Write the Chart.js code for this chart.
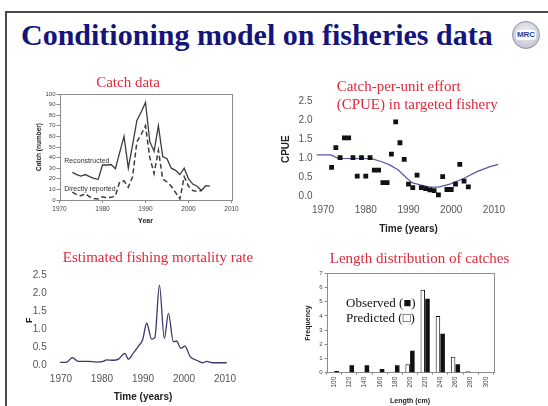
<!DOCTYPE html>
<html>
<head>
<meta charset="utf-8">
<script src="https://cdn.jsdelivr.net/npm/chart.js@4.4.1/dist/chart.umd.min.js"></script>
<style>
  body { margin: 0; width: 548px; height: 406px; background: #fff; position: relative; overflow: hidden; }
  .frame { position: absolute; left: 5px; top: 11px; width: 600px; height: 450px; border-left: 2px solid #4a4a4a; border-top: 2px solid #4a4a4a; }
  h1 { position: absolute; left: 21px; top: 20px; margin: 0; font: bold 30px/30px "Liberation Serif", "Times New Roman", serif; color: #14147a; white-space: nowrap; }
  .logo { position: absolute; left: 512px; top: 21px; width: 26px; height: 26px; border-radius: 50%; border: 1px solid #8d90a8;
          background: radial-gradient(circle at 50% 40%, #f4f4f8 0%, #c9cad6 70%, #a9abbd 100%); }
  .logo span { position: absolute; left: 3px; top: 8px; width: 20px; height: 10px; background: #fff; border-radius: 3px;
               font: bold 8px/10px "Liberation Sans", Arial, sans-serif; color: #1e3c9a; text-align: center; }
  canvas { position: absolute; }
</style>
</head>
<body>
<div class="frame"></div>
<h1>Conditioning model on fisheries data</h1>
<div class="logo"><span>MRC</span></div>

<canvas id="catchChart" width="240" height="153" style="left:10px; top:72px"></canvas>
<canvas id="cpueChart" width="278" height="166" style="left:270px; top:72px"></canvas>
<canvas id="fChart" width="270" height="161" style="left:0px; top:245px"></canvas>
<canvas id="lengthChart" width="268" height="161" style="left:280px; top:245px"></canvas>

<script>
// catch history
const catchYears = [1973, 1974, 1975, 1976, 1977, 1978, 1979, 1980, 1981, 1982, 1983, 1984, 1985, 1986, 1987, 1988, 1989,
  1990, 1991, 1992, 1993, 1994, 1995, 1996, 1997, 1998, 1999, 2000, 2001, 2002, 2003, 2004, 2005];
const reconstructed = [26, 24, 22.5, 24, 22, 20.5, 19.5, 33, 33, 33.5, 29.5, 45, 60, 30, 52, 75, 83,
  92, 55, 46, 70, 41, 39, 30, 28, 24, 30, 20, 15, 13, 9, 13.5, 13];
const reportedYears = [1973, 1974, 1975, 1976, 1977, 1978, 1979, 1980, 1981, 1982, 1983, 1984, 1985, 1986, 1987, 1988, 1989,
  1990, 1991, 1992, 1993, 1994, 1995, 1996, 1997, 1998, 1999, 2000, 2001, 2002, 2003];
const reported = [7.5, 5, 4, 6, 3, 1.5, 1, 3, 2, 2.5, 4, 17, 18, 12, 22, 55, 62,
  70, 40, 25, 47, 20, 17, 13, 7, 1, 22, 13, 9, 8, 9];

// CPUE observations and model fit
const cpueYears = [1972, 1973, 1974, 1975, 1976, 1977, 1978, 1979, 1980, 1981, 1982, 1983, 1984, 1985, 1986, 1987, 1988,
  1989, 1990, 1991, 1992, 1993, 1994, 1995, 1996, 1997, 1998, 1999, 2000, 2001, 2002, 2003, 2004];
const cpueObserved = [0.77, 1.29, 1.03, 1.55, 1.55, 1.03, 0.54, 1.03, 0.54, 1.03, 0.70, 0.70, 0.37, 0.37, 1.12, 1.97, 1.42,
  0.98, 0.33, 0.24, 0.57, 0.24, 0.21, 0.18, 0.16, 0.05, 0.53, 0.19, 0.19, 0.33, 0.85, 0.41, 0.26];
const cpueFitYears = [1968.5, 1971.8, 1973.6, 1981.4, 1983.7, 1985.7, 1987.6, 1989.2, 1990.8, 1992.7, 1995, 1997,
  1999.7, 2002.9, 2006, 2009.1, 2011];
const cpueFit = [1.10, 1.10, 1.01, 1.00, 0.92, 0.83, 0.70, 0.53, 0.37, 0.31, 0.25, 0.25, 0.33, 0.48, 0.66, 0.79, 0.85];

// fishing mortality
const fYears = [1969.8, 1971.4, 1972.8, 1974.2, 1976.7, 1978.7, 1980.3, 1981.1, 1982.8, 1984, 1985.6, 1986.4, 1987.6,
  1988.9, 1989.9, 1990.9, 1992.1, 1992.9, 1994, 1995.2, 1996.2, 1997.4, 1998.2, 1999.2, 2000.2, 2001.5, 2003.1,
  2004.6, 2005.5, 2007.1, 2010.4];
const fValues = [0.09, 0.10, 0.22, 0.12, 0.12, 0.10, 0.12, 0.16, 0.15, 0.18, 0.34, 0.18, 0.34,
  0.54, 0.71, 1.17, 0.73, 0.78, 2.22, 0.75, 1.44, 0.66, 0.68, 0.48, 0.54, 0.25, 0.15,
  0.08, 0.12, 0.08, 0.08];

// length frequencies
const lengthBins = ['100', '120', '140', '160', '180', '200', '220', '240', '260', '280', '300'];
const lengthObserved = [0.12, 0.52, 0.52, 0.26, 0.52, 1.55, 5.2, 2.75, 0.6, 0, 0];
const lengthPredicted = [0, 0, 0, 0, 0, 0.6, 5.85, 4.0, 1.13, 0.1, 0];

const yearTicks = [1970, 1980, 1990, 2000, 2010];
const halfTicks = [0, 0.5, 1, 1.5, 2, 2.5];

Chart.defaults.font.family = "'Liberation Sans', Arial, sans-serif";
Chart.defaults.animation = false;
Chart.defaults.responsive = false;
Chart.defaults.plugins.legend.display = false;
Chart.defaults.plugins.tooltip.enabled = false;

const serif = "'Liberation Serif', 'Times New Roman', serif";
const red = '#e0283a';

// free text (panel titles, in-plot labels)
const panelText = {
  id: 'panelText',
  defaults: { items: [] },
  afterDraw(chart, args, opts) {
    const ctx = chart.ctx;
    ctx.save();
    ctx.textBaseline = 'middle';
    opts.items.forEach(t => {
      ctx.font = t.font;
      ctx.fillStyle = t.color || '#000';
      ctx.textAlign = t.align || 'left';
      ctx.fillText(t.text, t.x, t.y);
    });
    ctx.restore();
  }
};

// frame round the plotting area
const plotBox = {
  id: 'plotBox',
  defaults: { display: false, color: '#888' },
  beforeDatasetsDraw(chart, args, opts) {
    if (!opts.display) return;
    const a = chart.chartArea;
    const ctx = chart.ctx;
    ctx.save();
    ctx.strokeStyle = opts.color;
    ctx.lineWidth = 1;
    ctx.strokeRect(Math.round(a.left) + 0.5, Math.round(a.top) + 0.5, Math.round(a.right - a.left), Math.round(a.bottom - a.top));
    ctx.restore();
  }
};

Chart.register(panelText, plotBox);

const pairs = (xs, ys) => xs.map((x, i) => ({ x: x, y: ys[i] }));
const fixWidth = w => scale => { scale.width = w; };
const fixHeight = h => scale => { scale.height = h; };
const setTicks = list => scale => { scale.ticks = list.map(v => ({ value: v })); };
const noGrid = { display: false, drawTicks: false };

// Catch data
new Chart(document.getElementById('catchChart'), {
  type: 'line',
  data: {
    datasets: [
      { label: 'Reconstructed', data: pairs(catchYears, reconstructed), borderColor: '#3c3c3c', borderWidth: 1.3, pointRadius: 0 },
      { label: 'Directly reported', data: pairs(reportedYears, reported), borderColor: '#3c3c3c', borderWidth: 1.5, borderDash: [5, 3], pointRadius: 0 }
    ]
  },
  options: {
    layout: { padding: { left: 25.4, right: 18.5, top: 22, bottom: 0 } },
    plugins: {
      plotBox: { display: true, color: '#8c8c8c' },
      panelText: {
        items: [
          { text: 'Catch data', x: 118, y: 10.7, align: 'center', font: '15px ' + serif, color: red },
          { text: 'Reconstructed', x: 54.3, y: 88.7, font: "7px 'Liberation Sans', Arial", color: '#333' },
          { text: 'Directly reported', x: 54.3, y: 117, font: "7px 'Liberation Sans', Arial", color: '#333' }
        ]
      }
    },
    scales: {
      x: {
        type: 'linear', min: 1970, max: 2010,
        afterBuildTicks: setTicks(yearTicks),
        afterFit: fixHeight(25),
        ticks: { font: { size: 6.5 }, color: '#444', padding: 2, callback: v => String(v) },
        grid: { drawOnChartArea: false, tickLength: 3, color: '#888' },
        border: { display: false },
        title: { display: true, text: 'Year', font: { size: 7, weight: 'bold' }, color: '#222', padding: 0 }
      },
      y: {
        min: 0, max: 100,
        afterFit: fixWidth(24.1),
        ticks: { stepSize: 10, font: { size: 6 }, color: '#444', padding: 1 },
        grid: { drawOnChartArea: false, tickLength: 3, color: '#888' },
        border: { display: false },
        title: { display: true, text: 'Catch (number)', font: { size: 6.5, weight: 'bold' }, color: '#222', padding: 0 }
      }
    }
  }
});

// CPUE in targeted fishery
new Chart(document.getElementById('cpueChart'), {
  type: 'line',
  data: {
    datasets: [
      { label: 'Observed', data: pairs(cpueYears, cpueObserved), showLine: false, pointStyle: 'rect', pointRadius: 3.4,
        backgroundColor: '#111', borderColor: '#111', borderWidth: 0 },
      { label: 'Model', data: pairs(cpueFitYears, cpueFit), borderColor: '#5558a8', borderWidth: 1.2, pointRadius: 0 }
    ]
  },
  options: {
    layout: { padding: { left: 10.7, right: 45.5, top: 25.9, bottom: 2.5 } },
    plugins: {
      panelText: {
        items: [
          { text: 'Catch-per-unit effort', x: 66.7, y: 14.7, font: '15px ' + serif, color: red },
          { text: '(CPUE) in targeted fishery', x: 66.7, y: 33, font: '15px ' + serif, color: red }
        ]
      }
    },
    scales: {
      x: {
        type: 'linear', min: 1968, max: 2012,
        afterBuildTicks: setTicks(yearTicks),
        afterFit: fixHeight(35),
        ticks: { font: { size: 10 }, color: '#555', padding: 4, callback: v => String(v) },
        grid: noGrid,
        border: { display: false },
        title: { display: true, text: 'Time (years)', font: { size: 10, weight: 'bold' }, color: '#222', padding: 0 }
      },
      y: {
        min: -0.1, max: 2.6,
        afterBuildTicks: setTicks(halfTicks),
        afterFit: fixWidth(33.8),
        ticks: { font: { size: 10 }, color: '#555', padding: 2, callback: v => v.toFixed(1) },
        grid: noGrid,
        border: { display: false },
        title: { display: true, text: 'CPUE', font: { size: 10, weight: 'bold' }, color: '#222', padding: 0 }
      }
    }
  }
});

// Estimated fishing mortality
new Chart(document.getElementById('fChart'), {
  type: 'line',
  data: {
    datasets: [
      { label: 'F', data: pairs(fYears, fValues), borderColor: '#38386e', borderWidth: 1.3, pointRadius: 0,
        cubicInterpolationMode: 'monotone' }
    ]
  },
  options: {
    layout: { padding: { left: 23.9, right: 38.4, top: 26.4, bottom: 2.3 } },
    plugins: {
      panelText: {
        items: [
          { text: 'Estimated fishing mortality rate', x: 158, y: 13.3, align: 'center', font: '15px ' + serif, color: red }
        ]
      }
    },
    scales: {
      x: {
        type: 'linear', min: 1968.4, max: 2011.6,
        afterBuildTicks: setTicks(yearTicks),
        afterFit: fixHeight(34.4),
        ticks: { font: { size: 10 }, color: '#555', padding: 4, callback: v => String(v) },
        grid: noGrid,
        border: { display: false },
        title: { display: true, text: 'Time (years)', font: { size: 10, weight: 'bold' }, color: '#222', padding: 0 }
      },
      y: {
        min: -0.1, max: 2.6,
        afterBuildTicks: setTicks(halfTicks),
        afterFit: fixWidth(30.5),
        ticks: { font: { size: 10 }, color: '#555', padding: 7.7, callback: v => v.toFixed(1) },
        grid: noGrid,
        border: { display: false },
        title: { display: true, text: 'F', font: { size: 9, weight: 'bold' }, color: '#222', padding: 0 }
      }
    }
  }
});

// Length distribution of catches
new Chart(document.getElementById('lengthChart'), {
  type: 'bar',
  data: {
    labels: lengthBins,
    datasets: [
      { label: 'Predicted', data: lengthPredicted, backgroundColor: '#fff', borderColor: '#111', borderWidth: 1,
        categoryPercentage: 0.62, barPercentage: 0.96 },
      { label: 'Observed', data: lengthObserved, backgroundColor: '#111', borderWidth: 0,
        categoryPercentage: 0.62, barPercentage: 0.96 }
    ]
  },
  options: {
    layout: { padding: { left: 24.1, right: 54.7, top: 28.3, bottom: 1.1 } },
    plugins: {
      plotBox: { display: true, color: '#8c8c8c' },
      panelText: {
        items: [
          { text: 'Length distribution of catches', x: 139.5, y: 14, align: 'center', font: '15px ' + serif, color: red },
          { text: 'Observed (\u25A0)', x: 66, y: 58.3, font: '13px ' + serif, color: '#111' },
          { text: 'Predicted (\u25A1)', x: 66, y: 74, font: '13px ' + serif, color: '#111' }
        ]
      }
    },
    scales: {
      x: {
        afterFit: fixHeight(32.2),
        ticks: { font: { size: 6.5 }, color: '#444', padding: 2, minRotation: 90, maxRotation: 90 },
        grid: { drawOnChartArea: false, tickLength: 2, color: '#888' },
        border: { display: false },
        title: { display: true, text: 'Length (cm)', font: { size: 7, weight: 'bold' }, color: '#222', padding: 0 }
      },
      y: {
        min: 0, max: 7,
        afterFit: fixWidth(22.6),
        ticks: { stepSize: 1, font: { size: 6 }, color: '#444', padding: 2 },
        grid: { drawOnChartArea: false, tickLength: 2, color: '#888' },
        border: { display: false },
        title: { display: true, text: 'Frequency', font: { size: 7, weight: 'bold' }, color: '#222', padding: 0 }
      }
    }
  }
});
</script>
</body>
</html>
